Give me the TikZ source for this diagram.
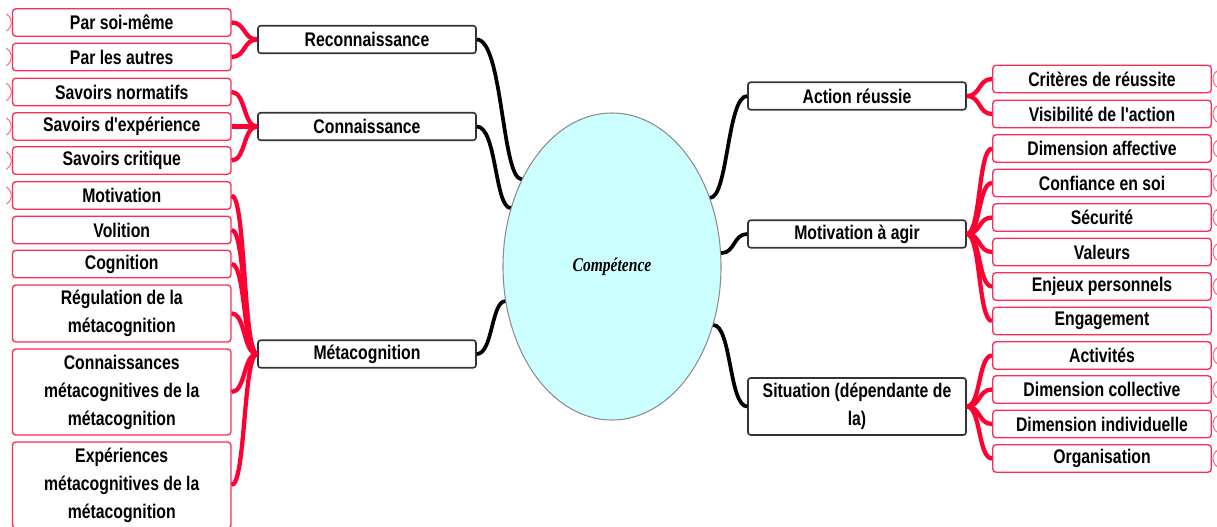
\documentclass[tikz,border=0pt]{standalone}
\usepackage{fontspec}
\setmainfont{Liberation Sans}[FakeStretch=0.8, Ligatures=TeXOff]
\newfontfamily\compfont{Liberation Serif}[FakeStretch=0.8]
\usetikzlibrary{shapes.geometric,calc}
\definecolor{cred}{HTML}{FF0033}
\definecolor{cbox}{HTML}{FF2A55}
\definecolor{ccyan}{HTML}{CCFFFF}
\begin{document}
\begin{tikzpicture}[x=0.75pt,y=-0.75pt,
 font=\fontsize{14.8pt}{21pt}\selectfont\bfseries,
 leaf/.style={draw=cbox, line width=1pt, rounded corners=2.5pt, fill=white, minimum width=218.5*0.75pt, minimum height=27.5*0.75pt, inner sep=0pt, align=center},
 mid/.style={draw=black!80, line width=1.2pt, rounded corners=2pt, fill=white, minimum width=218*0.75pt, minimum height=27.5*0.75pt, inner sep=0pt, align=center},
 blk/.style={line width=2.8pt, black},
 rd/.style={line width=3.2pt, cred},
 fold/.style={draw=cbox!70, line width=0.8pt}
]
\useasboundingbox (0,0) rectangle (1217,526);

% central ellipse
\node[ellipse, draw=black!45, line width=0.8pt, fill=ccyan, minimum width=218*0.75pt, minimum height=307*0.75pt, inner sep=0pt,
  font=\fontsize{14.6pt}{18pt}\selectfont\compfont\bfseries\itshape] (comp) at (612,266.5) {Compétence};

% left middle boxes
\node[mid] (reco) at (367,39.5) {Reconnaissance};
\node[mid] (conn) at (367,126.5) {Connaissance};
\node[mid] (meta) at (367,354) {Métacognition};

% right middle boxes
\node[mid] (action) at (857,96) {Action réussie};
\node[mid] (motagir) at (857,234) {Motivation à agir};
\node[mid, minimum height=57*0.75pt] (situ) at (857,406.5) {Situation (dépendante de\\la)};

% left leaves
\node[leaf] (soi) at (121.75,22.5) {Par soi-même};
\node[leaf] (autres) at (121.75,57) {Par les autres};
\node[leaf] (norm) at (121.75,92) {Savoirs normatifs};
\node[leaf] (sexp) at (121.75,126.5) {Savoirs d'expérience};
\node[leaf] (crit) at (121.75,160.5) {Savoirs critique};
\node[leaf] (motiv) at (121.75,195.5) {Motivation};
\node[leaf] (volit) at (121.75,230) {Volition};
\node[leaf] (cogn) at (121.75,264) {Cognition};
\node[leaf, minimum height=57*0.75pt] (regul) at (121.75,313.5) {Régulation de la\\métacognition};
\node[leaf, minimum height=86*0.75pt] (connmeta) at (121.75,392) {Connaissances\\métacognitives de la\\métacognition};
\node[leaf, minimum height=86*0.75pt] (expmeta) at (121.75,485) {Expériences\\métacognitives de la\\métacognition};

% right leaves
\node[leaf] (crits) at (1102,79) {Critères de réussite};
\node[leaf] (visi) at (1102,114) {Visibilité de l'action};
\node[leaf] (aff) at (1102,148.5) {Dimension affective};
\node[leaf] (conf) at (1102,183) {Confiance en soi};
\node[leaf] (secu) at (1102,217.5) {Sécurité};
\node[leaf] (val) at (1102,252) {Valeurs};
\node[leaf] (enj) at (1102,286.5) {Enjeux personnels};
\node[leaf] (eng) at (1102,321) {Engagement};
\node[leaf] (act) at (1102,355.5) {Activités};
\node[leaf] (coll) at (1102,389.5) {Dimension collective};
\node[leaf] (indiv) at (1102,424) {Dimension individuelle};
\node[leaf] (org) at (1102,458.5) {Organisation};

% black connectors
\draw[blk] (reco.east) .. controls +(26,0) and +(-20,0) .. (comp.136.8);
\draw[blk] (conn.east) .. controls +(20,0) and +(-16,0) .. (comp.150.2);
\draw[blk] (meta.east) .. controls +(16,0) and +(-14,0) .. (comp.198.5);
\draw[blk] (comp.35) .. controls +(18,0) and +(-20,0) .. (action.west);
\draw[blk] (comp.7) .. controls +(14,0) and +(-14,0) .. (motagir.west);
\draw[blk] (comp.330.4) .. controls +(18,0) and +(-18,0) .. (situ.west);

% red brace connectors
\foreach \p/\c in {reco/soi, reco/autres, conn/norm, conn/sexp, conn/crit,
  meta/motiv, meta/volit, meta/cogn, meta/regul, meta/connmeta, meta/expmeta}
  \draw[rd] (\p.west) .. controls +(-14,0) and +(14,0) .. (\c.east);
\foreach \p/\c in {action/crits, action/visi,
  motagir/aff, motagir/conf, motagir/secu, motagir/val, motagir/enj, motagir/eng,
  situ/act, situ/coll, situ/indiv, situ/org}
  \draw[rd] (\p.east) .. controls +(14,0) and +(-14,0) .. (\c.west);

% fold markers
\foreach \n in {soi, autres, norm, sexp, crit, motiv}
  \draw[fold] ($(\n.west)+(-5.5,-8.7)$) arc[start angle=60, end angle=-60, radius=7.5pt];
\foreach \n in {crits, visi, aff, conf, secu, val, enj, act, coll, indiv, org}
  \draw[fold] ($(\n.east)+(6,-8.7)$) arc[start angle=120, end angle=240, radius=7.5pt];
\end{tikzpicture}
\end{document}
